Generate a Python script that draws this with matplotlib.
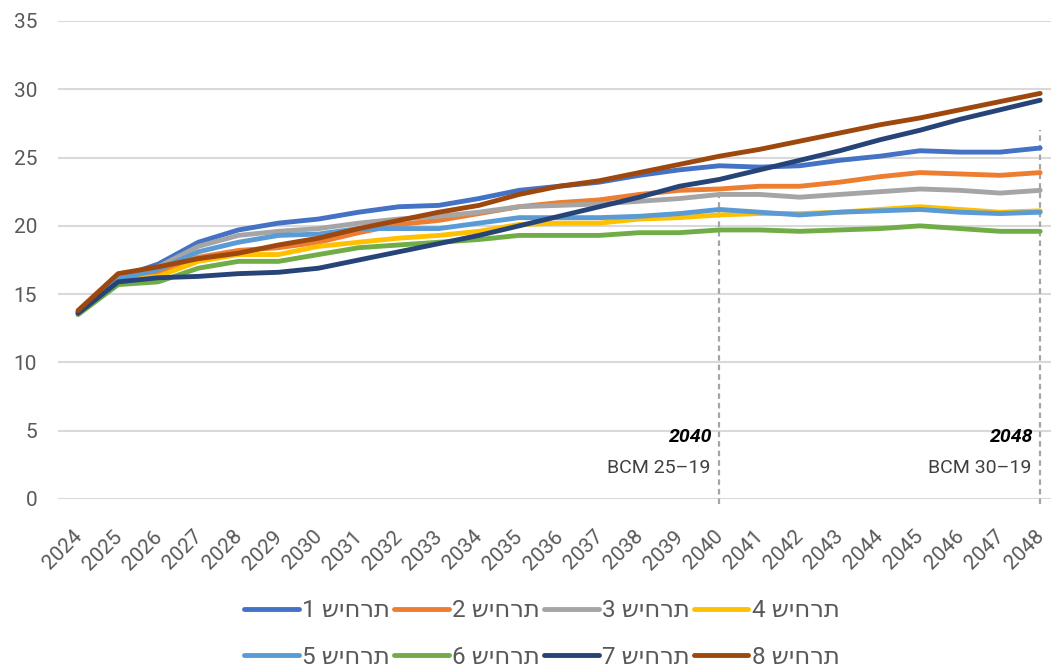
import numpy as np
import matplotlib
matplotlib.use("Agg")
import matplotlib.pyplot as plt
from matplotlib.transforms import ScaledTranslation

years = list(range(2024, 2049))

s1 = [13.7, 16.2, 17.2, 18.8, 19.7, 20.2, 20.5, 21.0, 21.4, 21.5, 22.0, 22.6, 22.9, 23.2, 23.7, 24.1, 24.4,
      24.3, 24.4, 24.8, 25.1, 25.5, 25.4, 25.4, 25.7]
s2 = [13.7, 16.3, 16.6, 17.7, 18.2, 18.4, 18.8, 19.5, 20.1, 20.4, 20.9, 21.4, 21.7, 21.9, 22.3, 22.6, 22.7,
      22.9, 22.9, 23.2, 23.6, 23.9, 23.8, 23.7, 23.9]
s3 = [13.7, 16.2, 17.0, 18.5, 19.3, 19.6, 19.8, 20.2, 20.5, 20.7, 21.0, 21.4, 21.5, 21.6, 21.8, 22.0, 22.3,
      22.3, 22.1, 22.3, 22.5, 22.7, 22.6, 22.4, 22.6]
s4 = [13.6, 16.0, 16.3, 17.4, 17.9, 17.9, 18.5, 18.8, 19.1, 19.3, 19.6, 20.1, 20.2, 20.2, 20.5, 20.6, 20.8,
      20.9, 20.9, 21.0, 21.2, 21.4, 21.2, 21.0, 21.1]
s5 = [13.6, 16.1, 16.8, 18.1, 18.8, 19.3, 19.4, 19.8, 19.8, 19.8, 20.2, 20.6, 20.6, 20.6, 20.7, 20.9, 21.2,
      21.0, 20.8, 21.0, 21.1, 21.2, 21.0, 20.9, 21.0]
s6 = [13.5, 15.7, 15.9, 16.9, 17.4, 17.4, 17.9, 18.4, 18.6, 18.8, 19.0, 19.3, 19.3, 19.3, 19.5, 19.5, 19.7,
      19.7, 19.6, 19.7, 19.8, 20.0, 19.8, 19.6, 19.6]
s7 = [13.6, 15.9, 16.2, 16.3, 16.5, 16.6, 16.9, 17.5, 18.1, 18.7, 19.3, 20.0, 20.7, 21.4, 22.1, 22.9, 23.4,
      24.1, 24.8, 25.5, 26.3, 27.0, 27.8, 28.5, 29.2]
s8 = [13.8, 16.5, 17.0, 17.6, 18.0, 18.6, 19.1, 19.8, 20.4, 21.0, 21.5, 22.3, 22.9, 23.3, 23.9, 24.5, 25.1,
      25.6, 26.2, 26.8, 27.4, 27.9, 28.5, 29.1, 29.7]

series = [s1, s2, s3, s4, s5, s6, s7, s8]
colors = ["#4472C4", "#ED7D31", "#A5A5A5", "#FFC000", "#5B9BD5", "#70AD47", "#264478", "#9E480E"]
# Hebrew "תרחיש N" written in visual order (matplotlib has no bidi)
labels = [str(i) + " " + "תרחיש"[::-1] for i in range(1, 9)]

mark_years = [2040, 2048]
mark_tops = [22.8, 27.0]
mark_titles = ["2040", "2048"]
mark_notes = ["BCM 25–19", "BCM 30–19"]

FONT = ["Roboto", "DejaVu Sans"]
plt.rcParams["font.family"] = FONT
TXT = "#595959"

fig = plt.figure(figsize=(10.51, 6.69), dpi=100)
ax = fig.add_axes([58 / 1051, 170 / 669, 993 / 1051, 478 / 669])

x = np.arange(len(years))
lines = []
for vals, col, lab in zip(series, colors, labels):
    ln, = ax.plot(x, vals, color=col, lw=3.5, solid_capstyle="round", label=lab, zorder=3)
    lines.append(ln)

for yr, top in zip(mark_years, mark_tops):
    xi = years.index(yr)
    ax.vlines(xi, -0.4, top, colors="#A5A5A5", linestyles=(0, (2.5, 1.8)), lw=1.6, zorder=2, clip_on=False)

for yr, t, n in zip(mark_years, mark_titles, mark_notes):
    xi = years.index(yr)
    ax.text(xi - 0.17, 4.55, t, ha="right", va="center", fontsize=14, fontweight="bold",
            fontstyle="italic", color="black")
    ax.text(xi - 0.22, 2.3, n, ha="right", va="center", fontsize=14, color="#404040")

ax.set_xlim(-0.5, 24.27)
ax.set_ylim(0, 35)
ax.set_yticks(range(0, 36, 5))
ax.set_xticks(x)
ax.set_xticklabels([str(y) for y in years], rotation=45, ha="right", va="top",
                   rotation_mode="anchor")
ax.tick_params(axis="both", length=0, labelsize=15, labelcolor=TXT)
ax.tick_params(axis="y", pad=15)
ax.tick_params(axis="x", pad=20)
shift = ScaledTranslation(-6 / 100, 0, fig.dpi_scale_trans)
for lb in ax.get_xticklabels():
    lb.set_transform(lb.get_transform() + shift)
ax.grid(axis="y", color="#D9D9D9", lw=1.5, zorder=0)
for sp in ax.spines.values():
    sp.set_visible(False)

order = [0, 4, 1, 5, 2, 6, 3, 7]
leg = fig.legend([lines[i] for i in order], [labels[i] for i in order], ncol=4,
                 loc="center", bbox_to_anchor=(542 / 1051, 1 - 634 / 669), frameon=False,
                 fontsize=17.5, handlelength=2.25, handletextpad=0.15, columnspacing=0.15,
                 labelspacing=0.95)
for t in leg.get_texts():
    t.set_color(TXT)

fig.savefig("out.png", dpi=100)
